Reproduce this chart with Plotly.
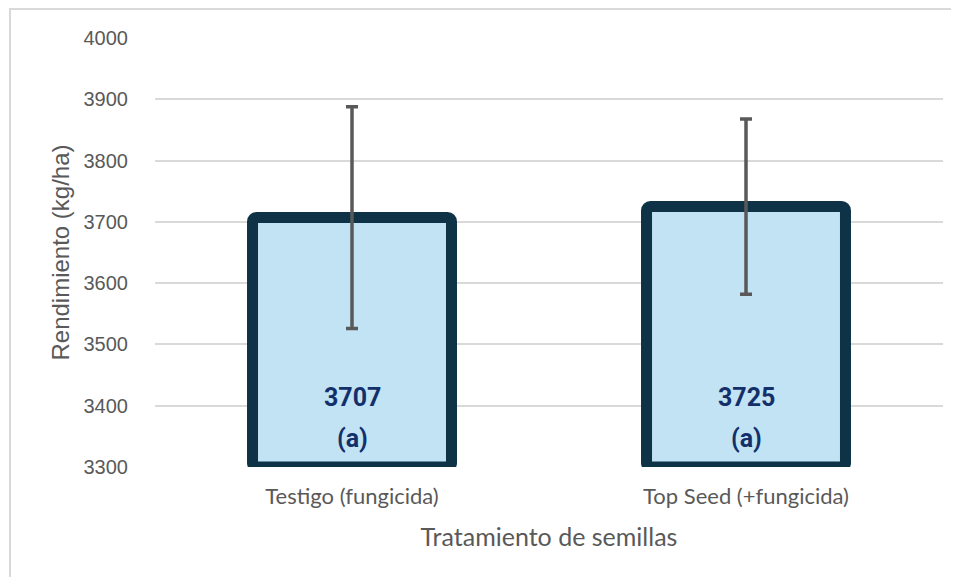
import plotly.graph_objects as go

categories = ["Testigo (fungicida)", "Top Seed (+fungicida)"]
rendimiento = [3707, 3725]
error_sd = [181, 143]
letras = ["(a)", "(a)"]
y_ticks = [3300, 3400, 3500, 3600, 3700, 3800, 3900, 4000]
y_min, y_max = 3300, 4000

# page is offset by 8px (body margin), so figure is sized accordingly
W, H = 951, 569
L, R, T, B = 147, 16, 30, 110

fig = go.Figure()
fig.add_trace(go.Bar(
    x=categories,
    y=[v - y_min for v in rendimiento],
    base=y_min,
    width=0.505,
    marker=dict(color="#c2e3f4", line=dict(color="#0e3246", width=11), cornerradius=4),
    error_y=dict(type="data", array=error_sd, visible=True, color="#595959",
                 thickness=3.5, width=6),
    hoverinfo="skip",
))

txt_font = dict(family="Roboto, Arial, sans-serif", size=25, color="#13306a")
for c, v, l in zip(categories, rendimiento, letras):
    fig.add_annotation(x=c, y=y_min, xref="x", yref="y", text=f"<b>{v}</b>",
                       showarrow=False, yanchor="middle", yshift=70, font=txt_font)
    fig.add_annotation(x=c, y=y_min, xref="x", yref="y", text=f"<b>{l}</b>",
                       showarrow=False, yanchor="middle", yshift=29, font=txt_font)

pw = W - L - R
ph = H - T - B
fig.add_shape(type="rect", xref="paper", yref="paper",
              x0=(2 - L) / pw, x1=(W + 20 - L) / pw,
              y0=-(H + 20 - T - ph) / ph, y1=1 + (T - 1) / ph,
              line=dict(color="#d9d9d9", width=2), fillcolor="rgba(0,0,0,0)", layer="below")

fig.update_layout(
    width=W, height=H,
    margin=dict(l=L, r=R, t=T, b=B),
    paper_bgcolor="white", plot_bgcolor="white",
    showlegend=False,
    xaxis=dict(
        title=dict(text="Tratamiento de semillas", standoff=20,
                   font=dict(family="Lato, Open Sans, sans-serif", size=25, color="#595959")),
        tickfont=dict(family="Lato, Open Sans, sans-serif", size=22, color="#595959"),
        showline=False, ticks="", showgrid=False, ticklabelstandoff=14,
    ),
    yaxis=dict(
        range=[y_min, y_max],
        tickvals=y_ticks,
        title=dict(text="Rendimiento (kg/ha)", standoff=7,
                   font=dict(family="Liberation Sans, Arial, sans-serif", size=24, color="#595959")),
        tickfont=dict(family="Liberation Sans, Arial, sans-serif", size=20, color="#595959"),
        showgrid=True, gridcolor="#d9d9d9", gridwidth=1.5,
        zeroline=False, showline=False, ticks="", ticklabelstandoff=26,
    ),
)

fig.write_html("out.html")
